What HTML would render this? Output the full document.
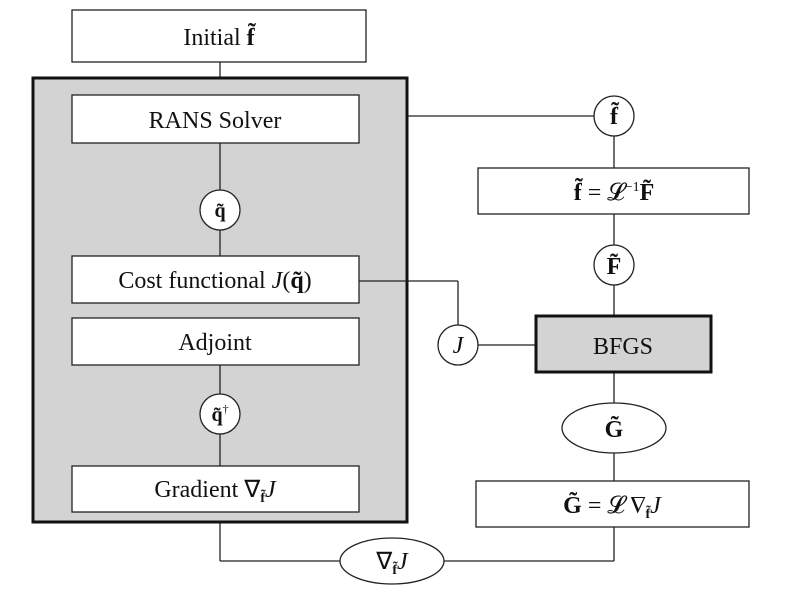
<!DOCTYPE html>
<html><head><meta charset="utf-8"><style>
html,body{margin:0;padding:0;background:#fff;}
svg text{font-family:"Liberation Serif",serif;fill:#111;}
</style></head><body>
<svg width="785" height="592" viewBox="0 0 785 592" xmlns="http://www.w3.org/2000/svg">
<g stroke="#222" stroke-width="1.3" fill="none">
<line x1="220" y1="62" x2="220" y2="78"/>
<line x1="220" y1="522" x2="220" y2="561"/>
<line x1="220" y1="561" x2="340" y2="561"/>
<line x1="444" y1="561" x2="614" y2="561"/>
<line x1="614" y1="561" x2="614" y2="527"/>
<line x1="407" y1="116" x2="594" y2="116"/>
<line x1="614" y1="136" x2="614" y2="168"/>
<line x1="614" y1="214" x2="614" y2="245"/>
<line x1="614" y1="285" x2="614" y2="316"/>
<line x1="614" y1="372" x2="614" y2="403"/>
<line x1="614" y1="453" x2="614" y2="481"/>
<line x1="458" y1="281" x2="458" y2="325"/>
<line x1="478" y1="345" x2="536" y2="345"/>
</g>
<rect x="72" y="10" width="294" height="52" fill="#fff" stroke="#222" stroke-width="1.3"/>
<rect x="33" y="78" width="374" height="444" fill="#d3d3d3" stroke="#111" stroke-width="3"/>
<g stroke="#222" stroke-width="1.3">
<line x1="220" y1="143" x2="220" y2="256"/>
<line x1="220" y1="365" x2="220" y2="466"/>
<line x1="359" y1="281" x2="458" y2="281"/>
</g>
<g fill="#fff" stroke="#222" stroke-width="1.3">
<rect x="72" y="95" width="287" height="48"/>
<rect x="72" y="256" width="287" height="47"/>
<rect x="72" y="318" width="287" height="47"/>
<rect x="72" y="466" width="287" height="46"/>
<circle cx="220" cy="210" r="20"/>
<circle cx="220" cy="414" r="20"/>
<circle cx="614" cy="116" r="20"/>
<circle cx="614" cy="265" r="20"/>
<circle cx="458" cy="345" r="20"/>
<rect x="478" y="168" width="271" height="46"/>
<rect x="476" y="481" width="273" height="46"/>
<ellipse cx="614" cy="428" rx="52" ry="25"/>
<ellipse cx="392" cy="561" rx="52" ry="23"/>
</g>
<rect x="536" y="316" width="175" height="56" fill="#d3d3d3" stroke="#111" stroke-width="3"/>
<g font-size="24" text-anchor="middle">
<text x="219" y="45">Initial <tspan font-weight="bold">f̃</tspan></text>
<text x="215" y="128">RANS Solver</text>
<text x="215" y="288">Cost functional <tspan font-style="italic">J</tspan>(<tspan font-weight="bold">q̃</tspan>)</text>
<text x="215" y="350">Adjoint</text>
<text x="215" y="497">Gradient ∇<tspan font-size="14" font-weight="bold" dy="5">f̃</tspan><tspan font-style="italic" dy="-5">J</tspan></text>
<text x="220" y="217" font-weight="bold" font-size="20">q̃</text>
<text x="220" y="421" font-size="20"><tspan font-weight="bold">q̃</tspan><tspan font-size="12" dy="-8">†</tspan></text>
<text x="614" y="124" font-weight="bold">f̃</text>
<text x="614" y="274" font-weight="bold">F̃</text>
<text x="458" y="353" font-style="italic">J</text>
<text x="614" y="200"><tspan font-weight="bold">f̃</tspan> = 𝓛<tspan font-size="14" dy="-9">−1</tspan><tspan font-weight="bold" dy="9">F̃</tspan></text>
<text x="623" y="354">BFGS</text>
<text x="614" y="437" font-weight="bold">G̃</text>
<text x="612" y="513"><tspan font-weight="bold">G̃</tspan> = 𝓛 ∇<tspan font-size="14" font-weight="bold" dy="5">f̃</tspan><tspan font-style="italic" dy="-5">J</tspan></text>
<text x="392" y="569">∇<tspan font-size="14" font-weight="bold" dy="5">f̃</tspan><tspan font-style="italic" dy="-5">J</tspan></text>
</g>
</svg>
</body></html>
